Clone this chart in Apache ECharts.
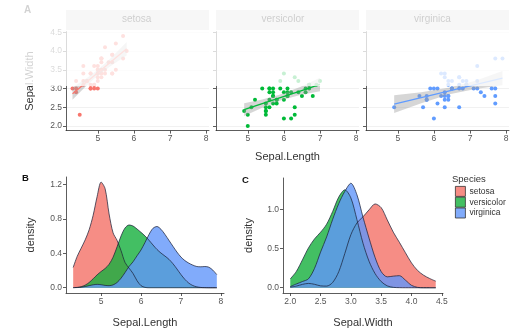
<!DOCTYPE html>
<html>
<head>
<meta charset="utf-8">
<script src="https://cdn.jsdelivr.net/npm/echarts@6/dist/echarts.min.js"></script>
<style>
  html, body { margin: 0; padding: 0; background: #fff; }
  #chart { width: 510px; height: 331px; }
</style>
</head>
<body>
<div id="chart"></div>
<script>
(function() {
const species = ['setosa', 'versicolor', 'virginica'];
const colors = ['#F8766D', '#00BA38', '#619CFF'];
const fills = ['rgba(244,112,103,0.8)', 'rgba(20,175,60,0.8)', 'rgba(97,150,250,0.8)'];

// scatter values (Sepal.Length, Sepal.Width)
const setosaLength = [5.1,4.9,4.7,4.6,5.0,5.4,4.6,5.0,4.4,4.9,5.4,4.8,4.8,4.3,5.8,5.7,5.4,5.1,5.7,5.1,5.4,5.1,4.6,5.1,4.8,5.0,5.0,5.2,5.2,4.7,4.8,5.4,5.2,5.5,4.9,5.0,5.5,4.9,4.4,5.1,5.0,4.5,4.4,5.0,5.1,4.8,5.1,4.6,5.3,5.0];
const setosaWidth = [3.5,3.0,3.2,3.1,3.6,3.9,3.4,3.4,2.9,3.1,3.7,3.4,3.0,3.0,4.0,4.4,3.9,3.5,3.8,3.8,3.4,3.7,3.6,3.3,3.4,3.0,3.4,3.5,3.4,3.2,3.1,3.4,4.1,4.2,3.1,3.2,3.5,3.6,3.0,3.4,3.5,2.3,3.2,3.5,3.8,3.0,3.8,3.2,3.7,3.3];
const versicolorLength = [7.0,6.4,6.9,5.5,6.5,5.7,6.3,4.9,6.6,5.2,5.0,5.9,6.0,6.1,5.6,6.7,5.6,5.8,6.2,5.6,5.9,6.1,6.3,6.1,6.4,6.6,6.8,6.7,6.0,5.7,5.5,5.5,5.8,6.0,5.4,6.0,6.7,6.3,5.6,5.5,5.5,6.1,5.8,5.0,5.6,5.7,5.7,6.2,5.1,5.7];
const versicolorWidth = [3.2,3.2,3.1,2.3,2.8,2.8,3.3,2.4,2.9,2.7,2.0,3.0,2.2,2.9,2.9,3.1,3.0,2.7,2.2,2.5,3.2,2.8,2.5,2.8,2.9,3.0,2.8,3.0,2.9,2.6,2.4,2.4,2.7,2.7,3.0,3.4,3.1,2.3,3.0,2.5,2.6,3.0,2.6,2.3,2.7,3.0,2.9,2.9,2.5,2.8];
const virginicaLength = [6.3,5.8,7.1,6.3,6.5,7.6,4.9,7.3,6.7,7.2,6.5,6.4,6.8,5.7,5.8,6.4,6.5,7.7,7.7,6.0,6.9,5.6,7.7,6.3,6.7,7.2,6.2,6.1,6.4,7.2,7.4,7.9,6.4,6.3,6.1,7.7,6.3,6.4,6.0,6.9,6.7,6.9,5.8,6.8,6.7,6.7,6.3,6.5,6.2,5.9];
const virginicaWidth = [3.3,2.7,3.0,2.9,3.0,3.0,2.5,2.9,2.5,3.6,3.2,2.7,3.0,2.5,2.8,3.2,3.0,3.8,2.6,2.2,3.2,2.8,2.8,2.7,3.3,3.2,2.8,3.0,2.8,3.0,2.8,3.8,2.8,2.8,2.6,3.0,3.4,3.1,3.0,3.1,3.1,3.1,2.7,3.2,3.3,3.0,2.5,3.0,3.4,3.0];

// regression lines and confidence bands
const setosaFitX = [4.3, 4.65, 5.0, 5.4, 5.8];
const setosaFitY = [2.864, 3.144, 3.423, 3.743, 4.062];
const setosaLow = [2.70, 3.04, 3.35, 3.63, 3.88];
const setosaHigh = [3.03, 3.25, 3.50, 3.85, 4.24];
const versicolorFitX = [4.9, 5.4, 5.9, 6.45, 7.0];
const versicolorFitY = [2.439, 2.598, 2.758, 2.934, 3.110];
const versicolorLow = [2.27, 2.49, 2.68, 2.83, 2.93];
const versicolorHigh = [2.61, 2.71, 2.84, 3.04, 3.29];
const virginicaFitX = [4.9, 5.65, 6.4, 7.15, 7.9];
const virginicaFitY = [2.583, 2.757, 2.930, 3.104, 3.278];
const virginicaLow = [2.35, 2.61, 2.84, 2.99, 3.09];
const virginicaHigh = [2.82, 2.90, 3.02, 3.21, 3.47];

// density curves
const lengthGrid = [4.3,4.4,4.5,4.6,4.7,4.8,4.9,5.0,5.1,5.2,5.3,5.4,5.5,5.6,5.7,5.8,5.9,6.0,6.1,6.2,6.3,6.4,6.5,6.6,6.7,6.8,6.9,7.0,7.1,7.2,7.3,7.4,7.5,7.6,7.7,7.8,7.9];
const setosaLengthDensity = [0.236,0.365,0.461,0.557,0.675,0.843,1.062,1.23,1.154,0.86,0.639,0.552,0.431,0.294,0.228,0.166,0.082,0.024,0.004,0,0,0,0,0,0,0,0,0,0,0,0,0,0,0,0,0,0];
const versicolorLengthDensity = [0.001,0.004,0.012,0.03,0.061,0.104,0.15,0.189,0.224,0.273,0.356,0.476,0.603,0.696,0.731,0.719,0.684,0.645,0.603,0.553,0.498,0.446,0.404,0.369,0.331,0.28,0.219,0.154,0.097,0.053,0.025,0.01,0.003,0.001,0,0,0];
const virginicaLengthDensity = [0.001,0.002,0.006,0.014,0.024,0.034,0.039,0.035,0.027,0.024,0.033,0.061,0.111,0.177,0.247,0.302,0.372,0.44,0.527,0.62,0.692,0.713,0.681,0.621,0.552,0.483,0.416,0.358,0.316,0.286,0.263,0.247,0.244,0.247,0.239,0.205,0.152];
const widthGrid = [2.0,2.1,2.2,2.3,2.4,2.5,2.6,2.7,2.8,2.9,3.0,3.1,3.2,3.3,3.4,3.5,3.6,3.7,3.8,3.9,4.0,4.1,4.2,4.3,4.4];
const setosaWidthDensity = [0.007,0.021,0.043,0.055,0.044,0.024,0.021,0.068,0.205,0.437,0.677,0.826,0.905,0.994,1.069,1.022,0.866,0.709,0.58,0.447,0.317,0.221,0.16,0.118,0.084];
const versicolorWidthDensity = [0.113,0.208,0.355,0.508,0.623,0.708,0.811,0.974,1.157,1.249,1.146,0.869,0.568,0.338,0.18,0.079,0.024,0.005,0.001,0,0,0,0,0,0];
const virginicaWidthDensity = [0.015,0.048,0.079,0.114,0.247,0.455,0.648,0.873,1.074,1.229,1.333,1.186,0.9,0.633,0.385,0.206,0.139,0.148,0.154,0.097,0.031,0.005,0,0,0];

// tick labels
const lengthTicks = [5, 6, 7, 8];
const widthTicks = [2.0, 2.5, 3.0, 3.5, 4.0, 4.5];
const densityTicksB = [0.0, 0.4, 0.8, 1.2];
const densityTicksC = [0.0, 0.5, 1.0];

const scatterX = [setosaLength, versicolorLength, virginicaLength];
const scatterY = [setosaWidth, versicolorWidth, virginicaWidth];
const fitX = [setosaFitX, versicolorFitX, virginicaFitX];
const fitY = [setosaFitY, versicolorFitY, virginicaFitY];
const bandLow = [setosaLow, versicolorLow, virginicaLow];
const bandHigh = [setosaHigh, versicolorHigh, virginicaHigh];
const lengthDens = [setosaLengthDensity, versicolorLengthDensity, virginicaLengthDensity];
const widthDens = [setosaWidthDensity, versicolorWidthDensity, virginicaWidthDensity];

const FONT = 'Liberation Sans, Arial, sans-serif';

function axis(opts) {
    const ticks = opts.ticks;
    const digits = opts.digits;
    const a = {
        type: 'value',
        gridIndex: opts.grid,
        min: opts.min,
        max: opts.max,
        axisLine: { show: true, onZero: false, lineStyle: { color: '#333', width: 0.8 } },
        axisTick: { show: true, length: 3, customValues: ticks, lineStyle: { color: '#333', width: 0.8 } },
        axisLabel: {
            show: opts.labels !== false,
            customValues: ticks,
            fontSize: 8.5,
            fontFamily: FONT,
            color: '#555',
            margin: 4,
            formatter: v => Number(v).toFixed(digits)
        },
        splitLine: { show: !!opts.split, lineStyle: { color: '#ebebeb', width: 0.7 } }
    };
    if (opts.name) {
        a.name = opts.name;
        a.nameLocation = 'middle';
        a.nameGap = opts.nameGap;
        a.nameTextStyle = { fontSize: opts.nameSize || 11, fontFamily: FONT, color: '#333' };
    }
    return a;
}

const topLefts = [66, 216, 366];
const grids = [];
const xAxes = [];
const yAxes = [];
topLefts.forEach((left, i) => {
    grids.push({ left: left, top: 31.6, width: 143, height: 99, outerBoundsMode: 'none' });
    xAxes.push(axis({ grid: i, min: 4.12, max: 8.08, ticks: lengthTicks, digits: 0,
        name: i === 1 ? 'Sepal.Length' : null, nameGap: 21 }));
    yAxes.push(axis({ grid: i, min: 1.88, max: 4.52, ticks: widthTicks, digits: 1, split: true,
        labels: i === 0, name: i === 0 ? 'Sepal.Width' : null, nameGap: 31 }));
});
// B
grids.push({ left: 66, top: 177, width: 158, height: 116, outerBoundsMode: 'none' });
xAxes.push(axis({ grid: 3, min: 4.12, max: 8.08, ticks: lengthTicks, digits: 0, name: 'Sepal.Length', nameGap: 24 }));
yAxes.push(axis({ grid: 3, min: -0.0615, max: 1.29, ticks: densityTicksB, digits: 1, name: 'density', nameGap: 30 }));
// C
grids.push({ left: 283, top: 178, width: 160, height: 115, outerBoundsMode: 'none' });
xAxes.push(axis({ grid: 4, min: 1.88, max: 4.52, ticks: widthTicks, digits: 1, name: 'Sepal.Width', nameGap: 24 }));
yAxes.push(axis({ grid: 4, min: -0.067, max: 1.40, ticks: densityTicksC, digits: 1, name: 'density', nameGap: 29 }));

const series = [];
species.forEach((sp, i) => {
    series.push({
        name: sp + ' points',
        type: 'scatter',
        xAxisIndex: i, yAxisIndex: i,
        data: scatterX[i].map((x, k) => [x, scatterY[i][k]]),
        symbolSize: 4,
        itemStyle: { color: colors[i], opacity: 1 },
        silent: true,
        z: 2
    });
    const xs = fitX[i], lo = bandLow[i], hi = bandHigh[i];
    series.push({
        name: sp + ' band',
        type: 'custom',
        xAxisIndex: i, yAxisIndex: i,
        data: xs.map((x, k) => [x, lo[k], hi[k]]),
        encode: { x: 0, y: [1, 2] },
        renderItem: function(params, api) {
            if (params.dataIndex !== 0) return null;
            const pts = [];
            for (let k = 0; k < xs.length; k++) pts.push(api.coord([xs[k], hi[k]]));
            for (let k = xs.length - 1; k >= 0; k--) pts.push(api.coord([xs[k], lo[k]]));
            return { type: 'polygon', shape: { points: pts }, style: { fill: 'rgba(153,153,153,0.4)' } };
        },
        silent: true,
        z: 3
    });
    series.push({
        name: sp + ' fit',
        type: 'line',
        xAxisIndex: i, yAxisIndex: i,
        data: fitX[i].map((x, k) => [x, fitY[i][k]]),
        symbol: 'none',
        lineStyle: { color: colors[i], width: 1.3 },
        silent: true,
        z: 4
    });
});
function densitySeries(sp, i, axisIdx, grid, dens) {
    return {
        name: sp,
        type: 'line',
        xAxisIndex: axisIdx, yAxisIndex: axisIdx,
        data: grid.map((x, k) => [x, dens[k]]),
        symbol: 'none',
        smooth: 0.3,
        itemStyle: { color: fills[i] },
        lineStyle: { color: 'rgba(25,30,55,0.8)', width: 0.9 },
        areaStyle: { color: fills[i], opacity: 1 },
        silent: true
    };
}
species.forEach((sp, i) => series.push(densitySeries(sp, i, 3, lengthGrid, lengthDens[i])));
species.forEach((sp, i) => series.push(densitySeries(sp, i, 4, widthGrid, widthDens[i])));

const stripElements = [];
topLefts.forEach((left, i) => {
    stripElements.push({
        type: 'rect', left: left, top: 10,
        shape: { width: 143, height: 20 },
        style: { fill: '#d9d9d9' }
    });
    stripElements.push({
        type: 'text', left: left + 71.5 - species[i].length * 2.6, top: 14,
        style: { text: species[i], fontSize: 10, fontFamily: FONT, fill: '#1a1a1a' }
    });
});
// washed-out top band of the figure
stripElements.push({
    type: 'rect', left: 0, top: 0, z: 100,
    shape: { width: 510, height: 86 },
    style: { fill: 'rgba(255,255,255,0.78)' }
});

const option = {
    backgroundColor: '#fff',
    animation: false,
    textStyle: { fontFamily: FONT },
    title: [
        { text: 'A', left: 24, top: 5, padding: 0, textStyle: { fontSize: 10, fontWeight: 'bold', color: '#333', fontFamily: FONT } },
        { text: 'B', left: 22, top: 173, padding: 0, textStyle: { fontSize: 9.5, fontWeight: 'bold', color: '#111', fontFamily: FONT } },
        { text: 'C', left: 242, top: 175, padding: 0, textStyle: { fontSize: 9.5, fontWeight: 'bold', color: '#111', fontFamily: FONT } },
        { text: 'Species', left: 452, top: 174, padding: 0, textStyle: { fontSize: 9.5, fontWeight: 'normal', color: '#333', fontFamily: FONT } }
    ],
    legend: {
        data: species,
        orient: 'vertical',
        left: 455, top: 186,
        padding: 0,
        itemWidth: 10, itemHeight: 10, itemGap: 0,
        icon: 'rect',
        selectedMode: false,
        itemStyle: { borderColor: '#333', borderWidth: 0.8 },
        textStyle: { fontSize: 8.5, color: '#333', fontFamily: FONT, padding: [0, 0, 0, -1] }
    },
    grid: grids,
    xAxis: xAxes,
    yAxis: yAxes,
    series: series,
    graphic: { elements: stripElements }
};

const chart = echarts.init(document.getElementById('chart'));
chart.setOption(option);
window.addEventListener('resize', () => chart.resize());
})();
</script>
</body>
</html>
